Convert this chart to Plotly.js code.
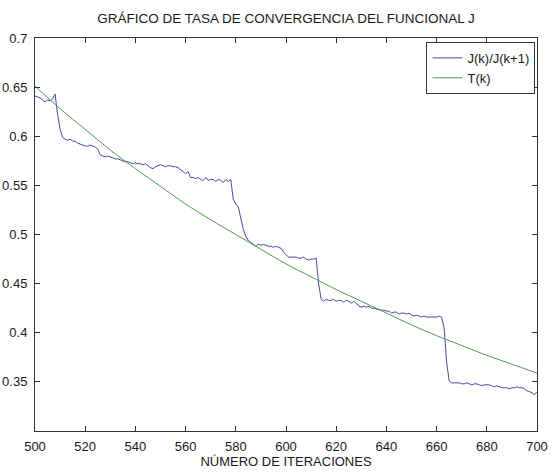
<!DOCTYPE html>
<html>
<head>
<meta charset="utf-8">
<script src="https://cdn.plot.ly/plotly-3.0.1.min.js"></script>
<style>
  html, body { margin: 0; padding: 0; background: #fff; }
  #chart { width: 552px; height: 474px; }
</style>
</head>
<body>
<div id="chart"></div>
<script>
// Iterations 500..700 (one sample per iteration)
const iteraciones = [];
for (let k = 500; k <= 700; k++) iteraciones.push(k);

// Ratio J(k)/J(k+1), one value per iteration
const razonJ = [
  0.641, 0.640, 0.639, 0.637, 0.635, 0.637, 0.636, 0.638, 0.643, 0.622,
  0.607, 0.599, 0.597, 0.596, 0.597, 0.595, 0.595, 0.593, 0.592, 0.591,
  0.590, 0.590, 0.591, 0.590, 0.589, 0.587, 0.581, 0.580, 0.579, 0.580,
  0.579, 0.578, 0.577, 0.577, 0.576, 0.575, 0.574, 0.574, 0.573, 0.572,
  0.573, 0.572, 0.572, 0.571, 0.572, 0.570, 0.568, 0.567, 0.569, 0.570,
  0.571, 0.570, 0.569, 0.570, 0.570, 0.569, 0.569, 0.568, 0.566, 0.564,
  0.562, 0.564, 0.558, 0.558, 0.557, 0.558, 0.556, 0.555, 0.558, 0.555,
  0.556, 0.556, 0.554, 0.556, 0.555, 0.553, 0.556, 0.554, 0.556, 0.536,
  0.531, 0.528, 0.517, 0.505, 0.498, 0.494, 0.492, 0.490, 0.488, 0.490,
  0.489, 0.490, 0.489, 0.488, 0.488, 0.487, 0.488, 0.487, 0.486, 0.482,
  0.479, 0.477, 0.477, 0.477, 0.477, 0.476, 0.476, 0.477, 0.475, 0.474,
  0.475, 0.475, 0.476, 0.450, 0.434, 0.432, 0.434, 0.433, 0.433, 0.434,
  0.432, 0.433, 0.433, 0.431, 0.433, 0.432, 0.430, 0.432, 0.430, 0.427,
  0.426, 0.427, 0.426, 0.427, 0.425, 0.425, 0.424, 0.424, 0.423, 0.423,
  0.422, 0.422, 0.420, 0.421, 0.421, 0.419, 0.420, 0.420, 0.419, 0.420,
  0.418, 0.417, 0.418, 0.417, 0.416, 0.417, 0.416, 0.416, 0.416, 0.416,
  0.416, 0.417, 0.416, 0.405, 0.370, 0.351, 0.349, 0.349, 0.349, 0.349,
  0.348, 0.348, 0.349, 0.348, 0.347, 0.348, 0.348, 0.347, 0.346, 0.347,
  0.347, 0.347, 0.346, 0.345, 0.346, 0.345, 0.344, 0.344, 0.344, 0.343,
  0.344, 0.344, 0.345, 0.344, 0.344, 0.343, 0.341, 0.340, 0.339, 0.337,
  0.340
];

// Convergence rate T(k), sampled every 10 iterations
const iteracionesT = [500, 510, 520, 530, 540, 550, 560, 570, 580, 590, 600,
                      610, 620, 630, 640, 650, 660, 670, 680, 690, 700];
const tasaT = [0.651, 0.628, 0.607, 0.586, 0.567, 0.549, 0.531, 0.515, 0.500, 0.485, 0.470,
               0.457, 0.444, 0.432, 0.420, 0.408, 0.397, 0.387, 0.377, 0.368, 0.359];

// Axis ticks
const ticksX = [500, 520, 540, 560, 580, 600, 620, 640, 660, 680, 700];
const ticksY = [0.35, 0.4, 0.45, 0.5, 0.55, 0.6, 0.65, 0.7];
const etiquetasY = ['0.35', '0.4', '0.45', '0.5', '0.55', '0.6', '0.65', '0.7'];

const fuente = { family: 'Liberation Sans, Arial, Helvetica, sans-serif', size: 13, color: '#1a1a1a' };

const trazas = [
  {
    x: iteraciones, y: razonJ, type: 'scatter', mode: 'lines',
    name: 'J(k)/J(k+1)',
    line: { color: '#4848aa', width: 1 }
  },
  {
    x: iteracionesT, y: tasaT, type: 'scatter', mode: 'lines',
    name: 'T(k)',
    line: { color: '#4f9a4f', width: 1, shape: 'spline', smoothing: 0.8 }
  }
];

const ejeComun = {
  showgrid: false, zeroline: false,
  showline: true, linecolor: '#333', linewidth: 1,
  mirror: 'ticks', ticks: 'inside', ticklen: 5, tickwidth: 1, tickcolor: '#333',
  tickfont: fuente, automargin: false
};

const layout = {
  width: 552, height: 474,
  margin: { l: 35, r: 15, t: 38, b: 43 },
  paper_bgcolor: '#fff', plot_bgcolor: '#fff',
  font: fuente,
  title: {
    text: 'GRÁFICO DE TASA DE CONVERGENCIA DEL FUNCIONAL J',
    font: Object.assign({}, fuente, { size: 13.5 }),
    xref: 'paper', x: 0.5, xanchor: 'center',
    yref: 'container', y: 0.961, yanchor: 'middle'
  },
  xaxis: Object.assign({}, ejeComun, {
    range: [500, 700], tickvals: ticksX, ticklabelstandoff: 3,
    title: { text: 'NÚMERO DE ITERACIONES', font: fuente, standoff: 2 }
  }),
  yaxis: Object.assign({}, ejeComun, {
    range: [0.3, 0.7], tickvals: ticksY, ticktext: etiquetasY, ticklabelstandoff: 4
  }),
  showlegend: true,
  legend: {
    x: 0.997, xanchor: 'right', y: 0.99, yanchor: 'top',
    bgcolor: '#fff', bordercolor: '#333', borderwidth: 1,
    font: fuente, itemwidth: 30, tracegroupgap: 0
  }
};

Plotly.newPlot('chart', trazas, layout, { staticPlot: true, displayModeBar: false });
</script>
</body>
</html>
